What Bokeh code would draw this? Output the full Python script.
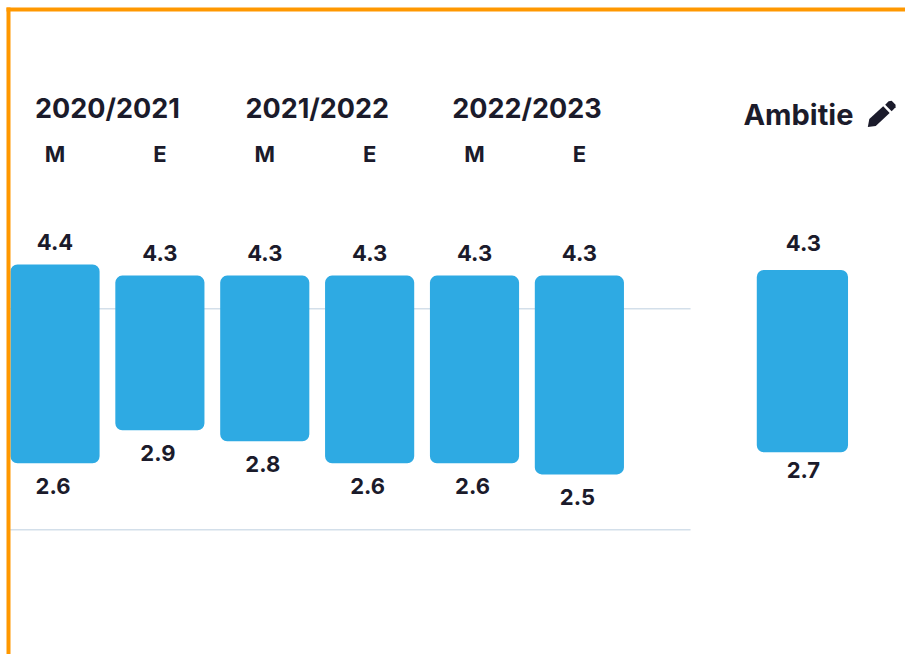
from bokeh.plotting import figure
from bokeh.models import Range1d, BoxAnnotation, PolyAnnotation, ColumnDataSource
from bokeh.core.properties import value
from bokeh.embed import file_html
from bokeh.resources import INLINE

seasons = ["2020/2021", "2021/2022", "2022/2023"]
terms = ["M", "E", "M", "E", "M", "E"]
high = [4.4, 4.3, 4.3, 4.3, 4.3, 4.3]
low = [2.6, 2.9, 2.8, 2.6, 2.6, 2.5]
ambition_title = "Ambitie"
ambition_label_high = "4.3"
ambition_label_low = "2.7"
ambition_high = 4.35
ambition_low = 2.7
grid_values = [4, 2]

# the figure fills the area inside the page margin and stands for the whole reference
W, H = 905, 654
REF_W, REF_H = 913, 662
SX, SY = W / REF_W, H / REF_H
PX_X, PX_Y = 105.8, 111.8
X0, Y4 = 55, 312
xr = Range1d(-X0 / PX_X, (REF_W - X0) / PX_X)
yr = Range1d(4 - (REF_H - Y4) / PX_Y, 4 + Y4 / PX_Y)

p = figure(width=W, height=H, x_range=xr, y_range=yr, output_backend="svg",
           toolbar_location=None, min_border=0, outline_line_color=None)
p.xaxis.visible = False
p.yaxis.visible = False
p.grid.visible = False

FONT = value("Inter")
INK = "#1b1b2b"
BLUE = "#2eaae3"
GRID = "#d3dfea"

idx = list(range(len(terms)))
amb_x = (809 - X0) / PX_X
term_y = 4 + (Y4 - 155) / PX_Y

p.segment(x0=[-0.428] * 2, x1=[6.06] * 2, y0=grid_values, y1=grid_values,
          line_color=GRID, line_width=1.5)

src = ColumnDataSource(dict(x=idx, top=high, bottom=low, term=terms, ty=[term_y] * len(terms),
                            hl=[f"{v:.1f}" for v in high], ll=[f"{v:.1f}" for v in low]))
p.vbar(x="x", top="top", bottom="bottom", width=0.85, source=src,
       fill_color=BLUE, line_color=None, border_radius=7)
p.vbar(x=[amb_x], top=[ambition_high], bottom=[ambition_low], width=0.87,
       fill_color=BLUE, line_color=None, border_radius=7)

lab = dict(text_font=FONT, text_font_style="bold", text_color=INK,
           text_align="center", text_baseline="middle")

p.text(x="x", y="top", text="hl", source=src, y_offset=-23, text_font_size="22px", **lab)
p.text(x="x", y="bottom", text="ll", source=src, y_offset=23, x_offset=-2, text_font_size="22px", **lab)
p.text(x=[amb_x], y=[ambition_high], text=[ambition_label_high], y_offset=-27, x_offset=1,
       text_font_size="22px", **lab)
p.text(x=[amb_x], y=[ambition_low], text=[ambition_label_low], y_offset=18, x_offset=1,
       text_font_size="22px", **lab)

p.text(x="x", y="ty", text="term", source=src, text_font_size="22px", **lab)

head_y = 4 + (Y4 - 109) / PX_Y
p.text(x=[0.5, 2.5, 4.5], y=[head_y] * 3, text=seasons, text_font_size="27px", **lab)

amb_title_y = 4 + (Y4 - 115) / PX_Y
p.text(x=[(805 - X0) / PX_X], y=[amb_title_y], text=[ambition_title], text_font_size="29px", **lab)

# pencil icon (reference pixels to screen units; screen y counts from the bottom)
def scr(pts):
    return dict(xs=[a * SX for a, b in pts], ys=[H - b * SY for a, b in pts],
                xs_units="screen", ys_units="screen")

for pts in ([(875, 128), (876.5, 120), (890.5, 107), (897, 114), (883, 127)],
            [(892.5, 105.5), (896, 102), (899, 101.5), (903, 105.5), (903, 108), (899, 112)]):
    p.add_layout(PolyAnnotation(fill_color=INK, fill_alpha=1, line_color=None, **scr(pts)))

# orange frame on left and top
ORANGE = "#ff9800"
p.add_layout(BoxAnnotation(left=6, right=10, bottom=0, top=H - 7, left_units="screen", right_units="screen",
                           top_units="screen", bottom_units="screen",
                           fill_color=ORANGE, fill_alpha=1, line_color=None))
p.add_layout(BoxAnnotation(left=6, right=W, bottom=H - 11, top=H - 7, left_units="screen", right_units="screen",
                           top_units="screen", bottom_units="screen",
                           fill_color=ORANGE, fill_alpha=1, line_color=None))

open("out.html", "w").write(file_html(p, INLINE))
